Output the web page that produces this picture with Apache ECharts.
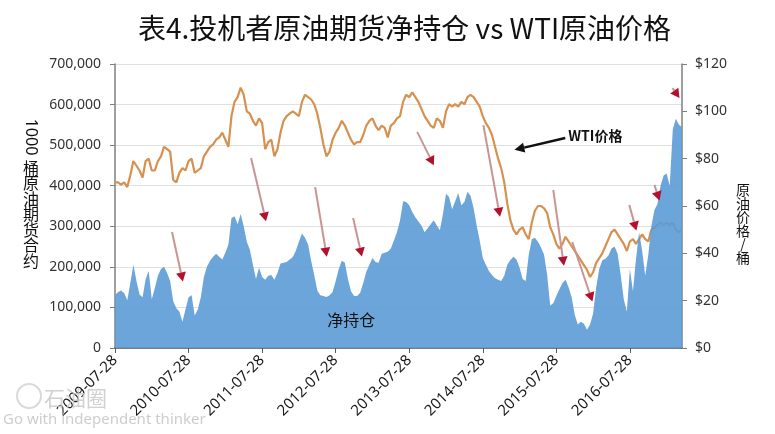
<!DOCTYPE html>
<html>
<head>
<meta charset="utf-8">
<script src="https://cdn.jsdelivr.net/npm/echarts@6/dist/echarts.min.js"></script>
<style>
html,body{margin:0;padding:0;background:#fff;}
#c{width:775px;height:434px;}
</style>
</head>
<body>
<div id="c"></div>
<script>
// ---- data (semi-monthly readings, 2009-07-28 .. 2017-04-13) ----
const tickLabels = ['2009-07-28','2010-07-28','2011-07-28','2012-07-28','2013-07-28','2014-07-28','2015-07-28','2016-07-28'];

// WTI price, $/barrel
const wtiPrice = [
 70,70,69,70,68,73,79,77,75,72,
 79,80,75,75,79,81,85,84,83,71,
 70,74,76,75,79,80,74,75,76,81,
 83,85,86,88,89,91,88,85,98,104,
 106,110,107,100,99,96,94,97,95,84,
 87,88,81,84,91,96,98,99,100,99,
 98,104,107,106,105,103,99,93,86,81,
 83,88,91,93,96,94,91,88,86,87,
 87,90,94,96,97,94,92,94,93,89,
 94,95,97,98,104,107,106,108,106,104,
 101,98,96,94,93,97,96,93,100,103,
 102,103,102,104,103,106,107,106,104,102,
 98,95,93,90,85,80,76,70,61,54,
 50,48,50,51,48,46,53,58,60,60,
 59,57,51,48,44,42,44,47,45,43,
 41,39,37,35,33,30,32,36,38,40,
 43,46,49,50,48,46,44,41,45,46,
 44,46,48,46,45,50,51,52,53,52,
 53,52,53,50,49,50
];

// speculator net long positions, contracts of 1000 barrels
const netPositions = [
 130000,138000,142000,135000,118000,160000,205000,165000,132000,125000,
 170000,190000,120000,148000,178000,195000,200000,185000,165000,115000,
 98000,90000,65000,95000,125000,130000,80000,95000,125000,175000,
 200000,215000,225000,232000,225000,218000,235000,255000,320000,325000,
 305000,330000,300000,262000,242000,205000,170000,198000,175000,168000,
 178000,180000,168000,185000,208000,210000,212000,218000,224000,240000,
 262000,282000,272000,255000,215000,180000,142000,130000,128000,126000,
 130000,138000,165000,195000,215000,210000,170000,140000,128000,128000,
 136000,160000,188000,205000,222000,212000,210000,232000,235000,237000,
 245000,265000,285000,315000,362000,360000,352000,335000,322000,312000,
 302000,285000,295000,305000,315000,302000,290000,330000,380000,372000,
 342000,362000,382000,352000,360000,385000,375000,345000,302000,265000,
 222000,205000,190000,180000,172000,168000,165000,178000,205000,217000,
 225000,218000,198000,170000,165000,230000,268000,272000,262000,248000,
 230000,180000,105000,110000,128000,145000,160000,168000,150000,125000,
 82000,58000,65000,60000,45000,58000,85000,150000,195000,216000,
 220000,228000,245000,250000,232000,180000,120000,90000,195000,140000,
 220000,285000,240000,178000,230000,300000,340000,355000,400000,425000,
 430000,400000,540000,565000,550000,545000
];

// annotation arrows in data space: [categoryIndex, price]
const redArrows = [
 [[18.6,49.0],[21.9,29.6]],
 [[44.4,80.3],[49.0,55.0]],
 [[65.3,68.0],[68.9,40.1]],
 [[77.7,54.9],[80.3,40.1]],
 [[98.6,91.3],[103.5,78.6]],
 [[120.2,94.2],[125.4,57.0]],
 [[143.0,66.8],[146.3,36.3]],
 [[149.2,44.8],[155.4,21.1]],
 [[167.8,60.4],[169.8,51.1]],
 [[176.0,68.9],[177.3,63.8]],
 [[181.9,109.8],[183.5,106.9]]
];
const wtiArrow = [[146.9,88.7],[131.6,84.1]];

// categories: 28th and 13th of each month
const categories = [];
for (let i = 0; i < wtiPrice.length; i++) {
  const m = 7 + Math.ceil(i / 2);
  const y = 2009 + Math.floor((m - 1) / 12);
  const mm = ((m - 1) % 12) + 1;
  const d = (i % 2 === 0) ? '28' : '13';
  categories.push(y + '-' + String(mm).padStart(2, '0') + '-' + d);
}

const FONT = '"Noto Sans", "Noto Sans CJK SC", sans-serif';
const CJK = '"Noto Sans CJK SC", sans-serif';
const chart = echarts.init(document.getElementById('c'));

const option = {
  backgroundColor: '#ffffff',
  animation: false,
  title: {
    text: '表4.投机者原油期货净持仓 vs WTI原油价格',
    left: 133, top: 9,
    textStyle: { fontSize: 28, fontWeight: 'normal', color: '#111', fontFamily: CJK }
  },
  grid: { left: 115, right: 93, top: 64, bottom: 86 },
  xAxis: {
    type: 'category', data: categories, boundaryGap: false,
    axisLine: { lineStyle: { color: '#595959', width: 1.5 } },
    axisTick: { interval: 23, length: 5, lineStyle: { color: '#595959' } },
    axisLabel: {
      interval: 23, rotate: 45, fontSize: 15, color: '#1a1a1a', margin: 10, fontFamily: FONT
    },
    splitLine: { show: false }
  },
  yAxis: [
    {
      type: 'value', min: 0, max: 700000, interval: 100000, position: 'left',
      axisLine: { show: true, lineStyle: { color: '#7f7f7f', width: 1.5 } },
      axisTick: { show: true, length: 5, lineStyle: { color: '#7f7f7f' } },
      axisLabel: { formatter: v => v.toLocaleString('en-US'), fontSize: 14, color: '#333', margin: 14, fontFamily: FONT },
      splitLine: { show: true, lineStyle: { color: '#e0e0e0', width: 1 } }
    },
    {
      type: 'value', min: 0, max: 120, interval: 20, position: 'right',
      axisLine: { show: true, lineStyle: { color: '#7f7f7f', width: 1.5 } },
      axisTick: { show: true, length: 5, lineStyle: { color: '#7f7f7f' } },
      axisLabel: { formatter: '${value}', fontSize: 14, color: '#333', margin: 13, fontFamily: FONT },
      splitLine: { show: false }
    }
  ],
  series: [
    {
      name: 'WTI价格', type: 'line', yAxisIndex: 1, data: wtiPrice,
      symbol: 'none', smooth: false,
      lineStyle: { color: '#d6904f', width: 2.2 }, z: 2
    },
    {
      name: '净持仓', type: 'line', yAxisIndex: 0, data: netPositions,
      symbol: 'none', lineStyle: { width: 0, color: '#5b9bd5' },
      areaStyle: { color: '#5b9bd5', opacity: 0.9 }, z: 3
    }
  ]
};
chart.setOption(option);

function toPx(pt, seriesIndex) {
  const i0 = Math.floor(pt[0]), f = pt[0] - i0;
  const a = chart.convertToPixel({ seriesIndex: seriesIndex }, [i0, pt[1]]);
  const b = chart.convertToPixel({ seriesIndex: seriesIndex }, [Math.min(i0 + 1, categories.length - 1), pt[1]]);
  return [a[0] + (b[0] - a[0]) * f, a[1]];
}
function arrow(p0, p1, lineColor, headColor, lw, hl, hw) {
  const dx = p1[0] - p0[0], dy = p1[1] - p0[1];
  const L = Math.sqrt(dx * dx + dy * dy);
  const ux = dx / L, uy = dy / L, px = -uy, py = ux;
  const tip = [p1[0] + ux * hl * 0.4, p1[1] + uy * hl * 0.4];
  const base = [tip[0] - ux * hl, tip[1] - uy * hl];
  return [
    { type: 'line', z: 10, shape: { x1: p0[0], y1: p0[1], x2: base[0], y2: base[1] },
      style: { stroke: lineColor, lineWidth: lw } },
    { type: 'polygon', z: 11, shape: { points: [tip, [base[0] + px * hw, base[1] + py * hw], [base[0] - px * hw, base[1] - py * hw]] },
      style: { fill: headColor } }
  ];
}

const g = [];
redArrows.forEach(a => {
  g.push(...arrow(toPx(a[0], 0), toPx(a[1], 0), '#c99494', '#b3102e', 2, 9, 5));
});
g.push(...arrow(toPx(wtiArrow[0], 0), toPx(wtiArrow[1], 0), '#111', '#111', 2.5, 10, 5));
const wtiTextPos = toPx(wtiArrow[0], 0);
g.push({ type: 'text', z: 12, x: wtiTextPos[0] + 3, y: wtiTextPos[1] - 2,
  style: { text: 'WTI价格', fontSize: 14, fill: '#111', fontFamily: CJK, fontWeight: 'bold', verticalAlign: 'middle', align: 'left' } });
const netTextPos = toPx([77.1, 69000], 1);
g.push({ type: 'text', z: 12, x: netTextPos[0], y: netTextPos[1],
  style: { text: '净持仓', fontSize: 16, fill: '#111', fontFamily: CJK, verticalAlign: 'middle', align: 'center' } });

// axis names
g.push({ type: 'text', z: 12, x: 31, y: 137, rotation: -Math.PI / 2,
  style: { text: '1000', fontSize: 16, fill: '#111', fontFamily: FONT, align: 'center', verticalAlign: 'middle' } });
g.push({ type: 'text', z: 12, x: 31, y: 160,
  style: { text: '桶\n原\n油\n期\n货\n合\n约', fontSize: 16, lineHeight: 15.5, fill: '#111', fontFamily: CJK, align: 'center', verticalAlign: 'top' } });
g.push({ type: 'text', z: 12, x: 743, y: 183,
  style: { text: '原\n油\n价\n格\n/\n桶', fontSize: 14, lineHeight: 13.5, fill: '#111', fontFamily: CJK, align: 'center', verticalAlign: 'top' } });

// watermark
g.push({ type: 'circle', z: 20, shape: { cx: 29, cy: 396, r: 12 }, style: { stroke: '#cfcfcf', fill: 'none', lineWidth: 2, opacity: 0.8 } });
g.push({ type: 'text', z: 20, x: 44, y: 398,
  style: { text: '石油圈', fontSize: 21, fill: '#c9c9c9', fontFamily: CJK, verticalAlign: 'middle', opacity: 0.85 } });
g.push({ type: 'text', z: 20, x: 3, y: 420,
  style: { text: 'Go with independent thinker', fontSize: 15, fill: '#c4c4c4', fontFamily: FONT, verticalAlign: 'middle', opacity: 0.85 } });

chart.setOption({ graphic: g });
</script>
</body>
</html>
